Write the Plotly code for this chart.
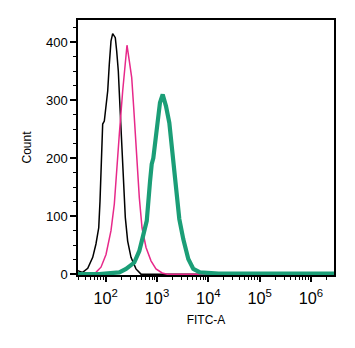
import plotly.graph_objects as go

# log10(FITC-A) positions and counts
black_logx = [1.454, 1.55, 1.65, 1.747, 1.81, 1.864, 1.889, 1.908, 1.928, 1.941, 1.973, 2.039, 2.07, 2.103, 2.136,
              2.187, 2.214, 2.246, 2.279, 2.312, 2.35, 2.382, 2.428, 2.493, 2.59, 2.688, 3.0, 4.0, 5.0, 6.5]
black_count = [6, 3, 10, 29, 52, 80, 126, 178, 224, 259, 264, 316, 362, 402, 415,
               408, 385, 350, 287, 230, 167, 98, 57, 29, 9, 0, 0, 0, 0, 0]

pink_logx = [1.46, 1.713, 1.81, 1.908, 2.006, 2.103, 2.168, 2.214, 2.234, 2.253, 2.265, 2.331, 2.415, 2.46, 2.507,
             2.546, 2.59, 2.624, 2.655, 2.708, 2.786, 2.883, 2.98, 3.1, 3.2, 4.0, 5.0, 6.5]
pink_count = [0, 0, 3, 12, 34, 75, 121, 178, 218, 224, 241, 316, 395, 368, 339,
              287, 219, 178, 132, 80, 46, 23, 9, 2, 0, 0, 0, 0]

green_logx = [1.46, 1.875, 2.265, 2.396, 2.557, 2.655, 2.72, 2.8, 2.864, 2.883, 2.897, 2.928, 2.948, 2.994, 3.058,
              3.111, 3.175, 3.24, 3.306, 3.37, 3.435, 3.513, 3.61, 3.708, 3.838, 4.2, 5.0, 6.0, 6.5]
green_count = [0, 0, 3, 9, 20, 40, 63, 92, 160, 178, 190, 200, 215, 256, 296,
               310, 290, 261, 210, 147, 95, 60, 26, 9, 3, 1, 1, 1, 1]

y_ticks = [0, 100, 200, 300, 400]

fig = go.Figure()
for lx, cnt, col, w in [(black_logx, black_count, "#000000", 1.5),
                        (pink_logx, pink_count, "#e7298a", 1.5),
                        (green_logx, green_count, "#1b9e77", 4.2)]:
    fig.add_trace(go.Scatter(x=[10 ** v for v in lx], y=cnt, mode="lines",
                             line=dict(color=col, width=w), showlegend=False))

font = dict(family="Liberation Sans, Arial, sans-serif", size=12, color="#000000")
tfont = dict(family="Liberation Sans, Arial, sans-serif", size=13, color="#000000")
fig.update_layout(
    width=355, height=348,
    margin=dict(l=78, r=21, t=20, b=73),
    paper_bgcolor="white", plot_bgcolor="white",
    font=font,
)
fig.update_xaxes(
    type="log", range=[1.46, 6.45], dtick=1, exponentformat="power", showexponent="all",
    showline=True, linecolor="black", linewidth=1.5, mirror=True,
    ticks="outside", ticklen=5, tickwidth=1.5, tickcolor="black", tickfont=tfont,
    ticklabelstandoff=3,
    minor=dict(ticks="outside", ticklen=3, tickwidth=1, tickcolor="black", dtick="D1", showgrid=False),
    showgrid=False, zeroline=False,
    title=dict(text="FITC-A", standoff=10, font=font),
)
fig.update_yaxes(
    range=[-1.5, 438.5], tickvals=y_ticks, tickfont=tfont,
    showline=True, linecolor="black", linewidth=1.5, mirror=True,
    ticks="outside", ticklen=6, tickwidth=1.5, tickcolor="black",
    minor=dict(ticks="outside", ticklen=3, tickwidth=1, tickcolor="black", dtick=25, showgrid=False),
    showgrid=False, zeroline=False,
    title=dict(text="Count", standoff=12, font=font),
)
fig.write_html("out.html")
